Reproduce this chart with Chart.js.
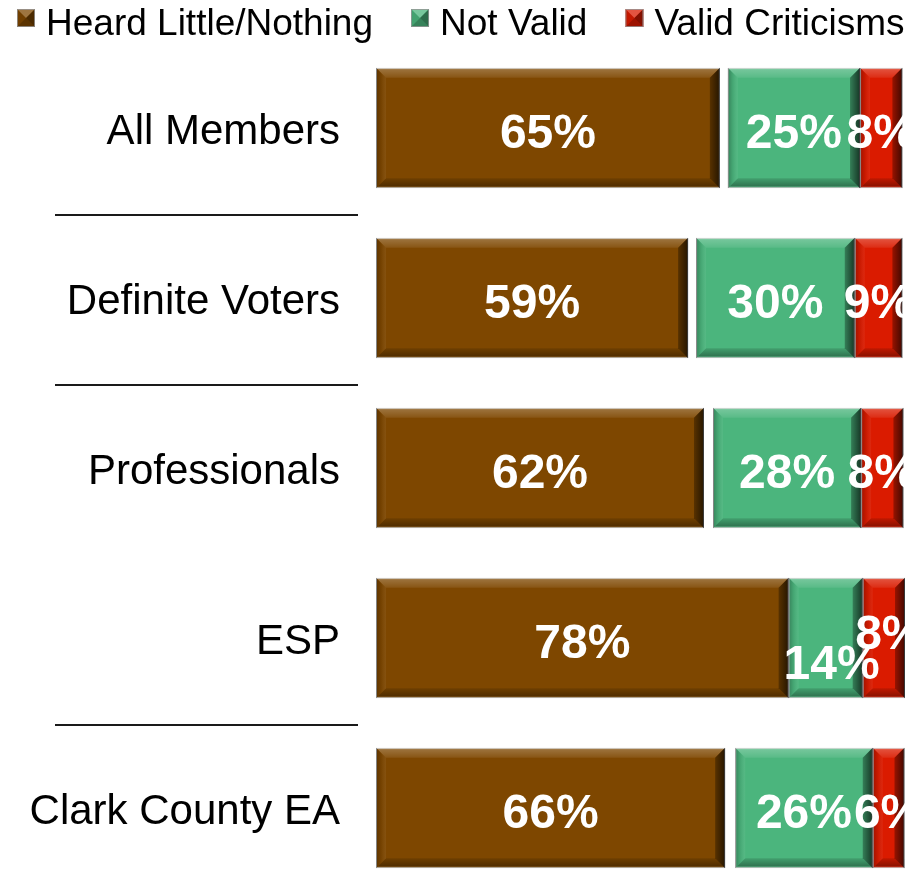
<!DOCTYPE html>
<html><head><meta charset="utf-8">
<script src="https://cdn.jsdelivr.net/npm/chart.js@4.4.0/dist/chart.umd.min.js"></script>
<style>html,body{margin:0;padding:0;background:#fff;overflow:hidden;width:915px;height:871px}canvas{display:block}</style>
</head><body>
<canvas id="c" width="915" height="893"></canvas>
<script>
// ---- data ----
const categories = ['All Members', 'Definite Voters', 'Professionals', 'ESP', 'Clark County EA'];
const heardLittle = [65, 59, 62, 78, 66];          // Heard Little/Nothing (%)
const unanswered  = [1.5, 1.5, 1.7, 0, 1.9];       // remaining share, not labelled (white gap)
const notValid    = [25, 30, 28, 14, 26];          // Not Valid (%)
const validCrit   = [8, 9, 8, 8, 6];               // Valid Criticisms (%)
const seriesNames = ['Heard Little/Nothing', 'Not Valid', 'Valid Criticisms'];

const FONT = '"Liberation Sans", Arial, sans-serif';
const COLORS = ['#7E4700', '#4BB57D', '#DA1B00'];

function poly(ctx, pts, fill) {
  ctx.beginPath();
  ctx.moveTo(pts[0][0], pts[0][1]);
  for (let i = 1; i < pts.length; i++) ctx.lineTo(pts[i][0], pts[i][1]);
  ctx.closePath();
  ctx.fillStyle = fill;
  ctx.fill();
}

function drawBevel(ctx, l, t, r, b, w) {
  const gT = ctx.createLinearGradient(0, t, 0, t + w);
  gT.addColorStop(0, 'rgba(255,255,255,0.40)');
  gT.addColorStop(0.25, 'rgba(255,255,255,0.22)');
  gT.addColorStop(1, 'rgba(255,255,255,0.08)');
  poly(ctx, [[l, t], [r, t], [r - w, t + w], [l + w, t + w]], gT);
  const gB = ctx.createLinearGradient(0, b - w, 0, b);
  gB.addColorStop(0, 'rgba(0,0,0,0.12)');
  gB.addColorStop(0.75, 'rgba(0,0,0,0.35)');
  gB.addColorStop(1, 'rgba(255,255,255,0.10)');
  poly(ctx, [[l, b], [r, b], [r - w, b - w], [l + w, b - w]], gB);
  const gL = ctx.createLinearGradient(l, 0, l + w, 0);
  gL.addColorStop(0, 'rgba(0,0,0,0.28)');
  gL.addColorStop(0.5, 'rgba(0,0,0,0.08)');
  gL.addColorStop(1, 'rgba(255,255,255,0.06)');
  poly(ctx, [[l, t], [l + w, t + w], [l + w, b - w], [l, b]], gL);
  const gR = ctx.createLinearGradient(r - w, 0, r, 0);
  gR.addColorStop(0, 'rgba(0,0,0,0.30)');
  gR.addColorStop(1, 'rgba(0,0,0,0.70)');
  poly(ctx, [[r, t], [r - w, t + w], [r - w, b - w], [r, b]], gR);
}

function drawPyramid(ctx, x, y, s, color) {
  ctx.fillStyle = color;
  ctx.fillRect(x, y, s, s);
  const cx = x + s / 2, cy = y + s / 2;
  poly(ctx, [[x, y], [x + s, y], [cx, cy]], 'rgba(255,255,255,0.25)');
  poly(ctx, [[x, y], [x, y + s], [cx, cy]], 'rgba(0,0,0,0.10)');
  poly(ctx, [[x + s, y], [x + s, y + s], [cx, cy]], 'rgba(0,0,0,0.40)');
  poly(ctx, [[x, y + s], [x + s, y + s], [cx, cy]], 'rgba(0,0,0,0.28)');
  ctx.strokeStyle = 'rgba(150,150,150,0.8)';
  ctx.lineWidth = 1;
  ctx.strokeRect(x + 0.5, y + 0.5, s - 1, s - 1);
}

// label nudges (style only) for the crowded ESP row: key = categoryIndex-datasetIndex
const LABEL_NUDGE = { '3-2': [6, 21], '3-3': [6, -9] };

const bevelPlugin = {
  id: 'bevelBars',
  afterDatasetsDraw(chart) {
    const ctx = chart.ctx;
    const area = chart.chartArea;
    ctx.save();
    ctx.beginPath();
    ctx.rect(area.left, area.top - 2, area.right - area.left, area.bottom - area.top + 4);
    ctx.clip();
    chart.data.datasets.forEach((ds, di) => {
      if (ds.hiddenSegment) return;
      const meta = chart.getDatasetMeta(di);
      meta.data.forEach((el, j) => {
        const p = el.getProps(['x', 'y', 'base', 'height'], true);
        const l = Math.min(p.x, p.base), r = Math.max(p.x, p.base);
        const t = p.y - p.height / 2, b = p.y + p.height / 2;
        if (r - l < 1) return;
        drawBevel(ctx, l, t, r, b, 10);
      });
    });
    ctx.font = 'bold 48px ' + FONT;
    ctx.fillStyle = '#ffffff';
    ctx.textAlign = 'center';
    ctx.textBaseline = 'alphabetic';
    chart.data.datasets.forEach((ds, di) => {
      if (ds.hiddenSegment) return;
      const meta = chart.getDatasetMeta(di);
      meta.data.forEach((el, j) => {
        const p = el.getProps(['x', 'y', 'base', 'height'], true);
        const nudge = LABEL_NUDGE[j + '-' + di] || [0, 0];
        const cx = (p.x + p.base) / 2 + nudge[0];
        ctx.fillText(ds.data[j] + '%', cx, p.y + 20 + nudge[1]);
      });
    });
    ctx.restore();
  },
  afterDraw(chart) {
    const ctx = chart.ctx;
    const y = chart.scales.y;
    ctx.save();
    // separators between categories
    ctx.strokeStyle = '#1a1a1a';
    ctx.lineWidth = 2;
    [[0, 1], [1, 2], [3, 4]].forEach(([a, b]) => {
      const yy = Math.round((y.getPixelForValue(a) + y.getPixelForValue(b)) / 2) + 2;
      ctx.beginPath();
      ctx.moveTo(55, yy);
      ctx.lineTo(358, yy);
      ctx.stroke();
    });
    // legend
    ctx.font = '37px ' + FONT;
    ctx.textAlign = 'left';
    ctx.textBaseline = 'alphabetic';
    let x = 17;
    chart.data.datasets.filter(d => !d.hiddenSegment).forEach(ds => {
      drawPyramid(ctx, x, 9, 18, ds.backgroundColor);
      ctx.fillStyle = '#000';
      ctx.fillText(ds.label, x + 29, 35);
      x += 29 + ctx.measureText(ds.label).width + 38;
    });
    ctx.restore();
  }
};

const common = { borderWidth: 1, borderColor: 'rgba(170,170,170,0.9)', borderSkipped: false,
                 barPercentage: 0.71, categoryPercentage: 1.0 };

new Chart(document.getElementById('c'), {
  type: 'bar',
  data: {
    labels: categories,
    datasets: [
      Object.assign({ label: seriesNames[0], data: heardLittle, backgroundColor: COLORS[0] }, common),
      Object.assign({}, common, { label: 'remainder', data: unanswered, backgroundColor: 'rgba(0,0,0,0)', borderWidth: 0, hiddenSegment: true }),
      Object.assign({ label: seriesNames[1], data: notValid, backgroundColor: COLORS[1] }, common),
      Object.assign({ label: seriesNames[2], data: validCrit, backgroundColor: COLORS[2] }, common)
    ]
  },
  options: {
    indexAxis: 'y',
    responsive: false,
    animation: false,
    layout: { padding: { top: 43, left: 10, right: 10, bottom: 0 } },
    plugins: { legend: { display: false }, tooltip: { enabled: false } },
    scales: {
      x: { stacked: true, min: 0, max: 100, display: false },
      y: {
        stacked: true,
        grid: { display: false, drawTicks: false },
        border: { display: false },
        ticks: { color: '#000', font: { family: FONT, size: 42 }, padding: 36, labelOffset: 4 },
        afterFit(scale) { scale.width = 366; scale.paddingTop = 0; scale.paddingBottom = 0; }
      }
    }
  },
  plugins: [bevelPlugin]
});
</script>
</body></html>
